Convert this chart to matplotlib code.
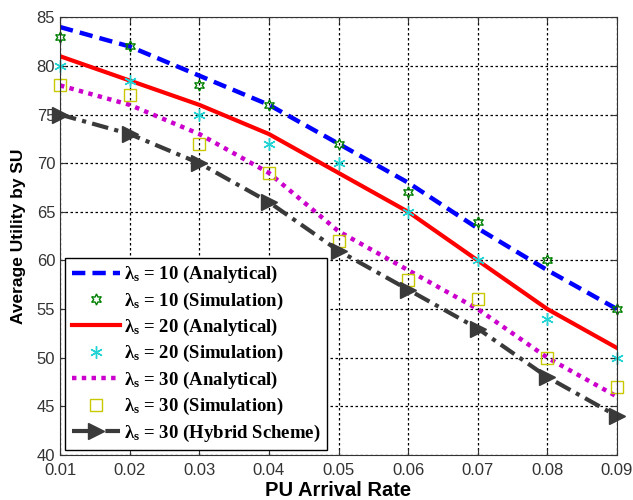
import matplotlib as mpl
mpl.use('Agg')
import matplotlib.pyplot as plt

rate = [0.01, 0.02, 0.03, 0.04, 0.05, 0.06, 0.07, 0.08, 0.09]

ana10 = [84, 82, 79, 76, 72, 68, 63.3, 59, 55]
sim10 = [83, 82, 78, 76, 72, 67, 64, 60, 55]
ana20 = [81, 78.5, 76, 73, 69, 65, 60, 55, 51]
sim20 = [80, 78.5, 75, 72, 70, 65, 60, 54, 50]
ana30 = [78, 76, 73, 69, 63, 59, 55, 50, 46]
sim30 = [78, 77, 72, 69, 62, 58, 56, 50, 47]
hyb30 = [75, 73, 70, 66, 61, 57, 53, 48, 44]

plt.rcParams['mathtext.default'] = 'regular'
plt.rcParams['font.family'] = 'Liberation Sans'

fig = plt.figure(figsize=(6.33, 5.0), dpi=100)
ax = fig.add_axes([0.0948, 0.09, 0.88, 0.8754])

ax.plot(rate, ana10, color='blue', ls=(0, (3, 1.6)), lw=3.2, label='λ$_s$ = 10 (Analytical)')
ax.plot(rate, sim10, ls='none', marker=(6, 1, 0), ms=8, mfc='none', mec='green', mew=1.0,
        clip_on=False, label='λ$_s$ = 10 (Simulation)')
ax.plot(rate, ana20, color='red', ls='-', lw=3.0, label='λ$_s$ = 20 (Analytical)')
ax.plot(rate, sim20, ls='none', marker=(6, 2, 0), ms=9, mec='#22d3d3', mew=1.0,
        clip_on=False, label='λ$_s$ = 20 (Simulation)')
ax.plot(rate, ana30, color='#cc00cc', ls=(0, (1, 1.2)), lw=3.2, label='λ$_s$ = 30 (Analytical)')
ax.plot(rate, sim30, ls='none', marker='s', ms=8, mfc='none', mec='#c8c800', mew=1.0,
        clip_on=False, label='λ$_s$ = 30 (Simulation)')
ax.plot(rate, hyb30, color='#3a3a3a', ls=(0, (4, 1.5, 1, 1.5)), lw=3.0, marker='>', ms=12,
        clip_on=False, label='λ$_s$ = 30 (Hybrid Scheme)')

ax.set_xlim(0.01, 0.09)
ax.set_ylim(40, 85)
ax.set_xticks(rate)
ax.set_xticklabels(['%.2f' % r for r in rate])
ax.set_yticks(range(40, 86, 5))
ax.tick_params(direction='in', top=True, right=True, labelsize=12, colors='#333333', length=4)
ax.tick_params(axis='x', pad=6)
ax.grid(True, color='black', ls=(0, (2, 2)), lw=0.9)
for s in ax.spines.values():
    s.set_color('#333333')

ax.set_xlabel('PU Arrival Rate', fontsize=14.5, fontweight='bold', labelpad=2)
ax.set_ylabel('Average Utility by SU', fontsize=12.5, fontweight='bold', labelpad=8)

leg = ax.legend(loc='lower left', bbox_to_anchor=(0.009, 0.011), borderaxespad=0,
                prop=dict(family='Liberation Serif', weight='bold', size=13.5),
                handlelength=2.6, handletextpad=0.2, labelspacing=0.28,
                fancybox=False, framealpha=1, edgecolor='black', borderpad=0.35)
leg.get_frame().set_linewidth(1.0)
leg.set_zorder(5)

plt.savefig('out.png', dpi=100)
